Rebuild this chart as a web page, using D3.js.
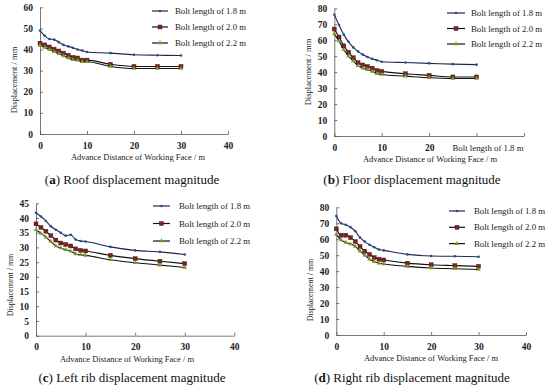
<!DOCTYPE html>
<html>
<head>
<meta charset="utf-8">
<script src="https://cdn.jsdelivr.net/npm/d3@7/dist/d3.min.js"></script>
<style>
  body { margin: 0; background: #fff; }
  svg text { font-family: "Liberation Serif", "Times New Roman", serif; fill: #222; }
  .tick text { font-size: 9.5px; font-weight: bold; }
  .axis path, .axis line { stroke: #555; stroke-width: 0.8; }
  .caption { font-size: 13px; fill: #111; }
</style>
</head>
<body>
<svg id="chart" width="550" height="385" font-family="Liberation Serif"></svg>
<script>
// advance distance (m)
var xVals = [0, 1, 2, 3, 4, 5, 6, 7, 8, 9, 10, 15, 20, 25, 30];

// roof
var roof18 = [49, 46.5, 45, 44.7, 43.5, 42.2, 41.5, 40.8, 40, 39.5, 38.8, 38.3, 37.5, 37.3, 37.2];
var roof20 = [43, 42.2, 41.2, 40.2, 39.3, 38.3, 37.3, 36.3, 36, 35, 35, 33, 32, 32, 32];
var roof22 = [42, 41, 40, 39, 38, 37, 36, 35.2, 35, 34.2, 34.2, 32, 31, 31, 31];

// floor
var floor18 = [76, 69.5, 63.5, 59, 55.5, 53, 51, 49.5, 48.3, 47.5, 46.5, 46, 45.5, 45, 44.7];
var floor20 = [67, 62, 56.5, 52.5, 49, 46, 44.5, 43.5, 42.5, 41, 40.5, 39, 38, 37, 37];
var floor22 = [64, 59.5, 54, 50, 47, 44, 42.5, 41.5, 40.5, 39, 38.5, 37.5, 36.5, 36, 36];

// left rib
var left18 = [41.8, 40.5, 39, 37.2, 36, 35, 34, 34.3, 32.7, 32.2, 32, 30.2, 29, 28.5, 27.6];
var left20 = [38, 36.8, 35.5, 34, 32.5, 31.5, 31, 30.5, 29.5, 29, 28.8, 27.3, 26.2, 25.3, 24.5];
var left22 = [36, 34.8, 33.5, 32, 30.5, 29.8, 29.2, 28.7, 27.8, 27.5, 27.3, 25.8, 24.8, 24, 23.2];

// right rib
var right18 = [74.5, 70, 69, 67.5, 65, 61, 58.5, 56.5, 55, 53.5, 53, 50.5, 49.5, 49.3, 49];
var right20 = [66.5, 62.5, 62.5, 61, 58.5, 55.5, 52.5, 50.5, 48.5, 47.5, 47, 45, 44, 43.5, 43];
var right22 = [63, 59.5, 58, 57, 55.5, 52.5, 50, 47.5, 46, 45, 44.5, 43, 42, 41.5, 41];

var seriesNames = ["Bolt length of 1.8 m", "Bolt length of 2.0 m", "Bolt length of 2.2 m"];
var xTicks = [0, 10, 20, 30, 40];
var xTickLabelsB = ["0", "10", "20", "", ""];
var strayLabel = "Bolt length of 1.8 m";
var captionLetters = ["a", "b", "c", "d"];
var captionTexts = ["Roof displacement magnitude", "Floor displacement magnitude",
                    "Left rib displacement magnitude", "Right rib displacement magnitude"];
var xTitle = "Advance Distance of Working Face / m";
var yTitle = "Displacement / mm";

var svg = d3.select("#chart");

var lineColors = ["#1c2a4a", "#111", "#111"];
var markFill = ["#2a4a8a", "#8b1c1c", "#7a9a2a"];

// xt: x-title centre, yt: y-title [x, centre y, size]
var panels = [
  {data: [roof18, roof20, roof22], ymax: 60, ystep: 10, x0: 40, x1: 228, y0: 134, y1: 7.3,
   xt: 138, yt: [14, 80, 8.5], leg: [152, 168, 175, 11, 16], cap: [132, 184]},
  {data: [floor18, floor20, floor22], ymax: 80, ystep: 10, x0: 334.3, x1: 524, y0: 136, y1: 8.3,
   xt: 430, yt: [308, 72, 8.5], leg: [447, 465, 471, 13, 15.5], cap: [412, 184], labels: xTickLabelsB},
  {data: [left18, left20, left22], ymax: 45, ystep: 5, x0: 36, x1: 234.3, y0: 335.7, y1: 203.3,
   xt: 127, yt: [10, 285, 8], leg: [153, 170, 179, 206, 17.5], cap: [132, 382]},
  {data: [right18, right20, right22], ymax: 80, ystep: 10, x0: 336.3, x1: 526, y0: 335, y1: 207.3,
   xt: 431, yt: [310, 290, 8], leg: [449, 465, 474, 211, 16.3], cap: [412, 382]}
];

function marker(g, k, cx, cy) {
  if (k == 0) {
    g.append("circle").attr("cx", cx).attr("cy", cy).attr("r", 1.3)
      .attr("fill", markFill[0]);
  } else if (k == 1) {
    g.append("rect").attr("x", cx - 2).attr("y", cy - 2).attr("width", 4).attr("height", 4)
      .attr("fill", markFill[1]).attr("stroke", "#222").attr("stroke-width", 0.4);
  } else {
    g.append("path").attr("d", d3.symbol().type(d3.symbolTriangle).size(9)())
      .attr("transform", "translate(" + cx + "," + cy + ")")
      .attr("fill", markFill[2]);
  }
}

panels.forEach(function(p, i) {
  var x = d3.scaleLinear().domain([0, 40]).range([p.x0, p.x1]);
  var y = d3.scaleLinear().domain([0, p.ymax]).range([p.y0, p.y1]);
  var g = svg.append("g");

  var xAxis = d3.axisBottom(x).tickValues(xTicks).tickSizeInner(-3).tickSizeOuter(0).tickPadding(8);
  if (p.labels) xAxis.tickFormat(function(d, j) { return p.labels[j]; });
  g.append("g").attr("class", "axis").attr("transform", "translate(0," + p.y0 + ")").call(xAxis);

  g.append("g").attr("class", "axis").attr("transform", "translate(" + p.x0 + ",0)")
    .call(d3.axisLeft(y).tickValues(d3.range(0, p.ymax + 1, p.ystep))
      .tickSizeInner(-3).tickSizeOuter(0).tickPadding(7));

  g.selectAll(".axis").attr("font-family", "Liberation Serif");

  if (p.labels) {
    g.append("text").attr("x", 488).attr("y", p.y0 + 14.5).attr("text-anchor", "middle")
      .attr("font-size", 8.8).text(strayLabel);
  }

  // titles
  g.append("text").attr("x", p.xt).attr("y", p.y0 + 26)
    .attr("text-anchor", "middle").attr("font-size", 8.5).text(xTitle);
  g.append("text").attr("transform", "translate(" + p.yt[0] + "," + p.yt[1] + ") rotate(-90)")
    .attr("dy", "0.35em").attr("text-anchor", "middle").attr("font-size", p.yt[2]).text(yTitle);

  // series
  var line = d3.line().x(function(d, j) { return x(xVals[j]); }).y(function(d) { return y(d); })
    .curve(d3.curveMonotoneX);
  p.data.forEach(function(s, k) {
    g.append("path").attr("d", line(s)).attr("fill", "none")
      .attr("stroke", lineColors[k]).attr("stroke-width", 1.1);
    s.forEach(function(v, j) { marker(g, k, x(xVals[j]), y(v)); });
  });

  // legend
  seriesNames.forEach(function(name, k) {
    var ly = p.leg[3] + k * p.leg[4];
    g.append("line").attr("x1", p.leg[0]).attr("x2", p.leg[1]).attr("y1", ly).attr("y2", ly)
      .attr("stroke", lineColors[k]).attr("stroke-width", 1.2);
    marker(g, k, (p.leg[0] + p.leg[1]) / 2, ly);
    g.append("text").attr("x", p.leg[2]).attr("y", ly).attr("dy", "0.35em")
      .attr("font-size", 8.8).text(name);
  });

  // caption
  var c = g.append("text").attr("class", "caption").attr("x", p.cap[0]).attr("y", p.cap[1])
    .attr("text-anchor", "middle");
  c.append("tspan").text("(");
  c.append("tspan").attr("font-weight", "bold").text(captionLetters[i]);
  c.append("tspan").text(") " + captionTexts[i]);
});
</script>
</body>
</html>
